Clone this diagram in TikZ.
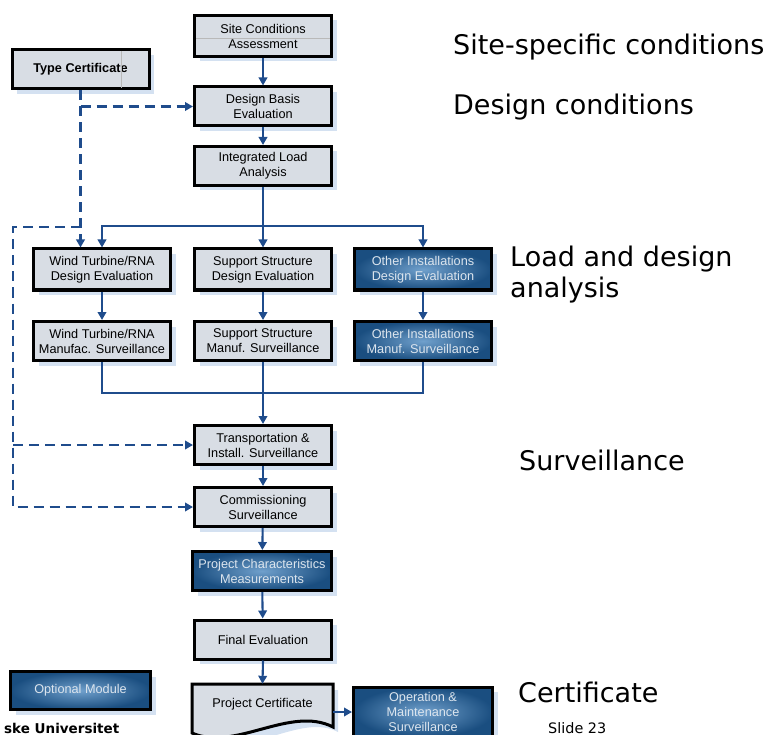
\documentclass[tikz,border=0pt]{standalone}
\usepackage{fontspec}
\setmainfont{Liberation Sans}
\newfontfamily\labelfont{DejaVu Sans}
\usetikzlibrary{arrows.meta,shadows}

\definecolor{boxfill}{RGB}{216,221,228}
\definecolor{shadowblue}{RGB}{212,225,241}
\definecolor{linkblue}{RGB}{31,76,140}
\definecolor{darkouter}{RGB}{26,78,128}
\definecolor{darkinner}{RGB}{112,160,204}
\definecolor{darktext}{RGB}{220,229,238}

\tikzset{
  module/.style={draw=black, line width=3pt, fill=boxfill,
    minimum width=137pt, minimum height=39pt, inner sep=0pt, align=center,
    font=\fontsize{12.7pt}{15pt}\selectfont,
    drop shadow={shadow xshift=5pt, shadow yshift=-5pt, fill=shadowblue, opacity=1}},
  optmodule/.style={module, fill=none, shade, inner color=darkinner, outer color=darkouter,
    text=darktext},
  link/.style={draw=linkblue, line width=2.1pt},
  linkarrow/.style={link, -{Triangle[length=8pt,width=8.5pt]}},
  dlink/.style={link, line width=2.3pt, dash pattern=on 10pt off 6pt},
  dlinkarrow/.style={dlink, -{Triangle[length=8pt,width=8.5pt]}},
  sidelabel/.style={anchor=base west, inner sep=0pt, font=\labelfont\fontsize{27pt}{31pt}\selectfont},
}

\begin{document}
\begin{tikzpicture}[x=1pt,y=-1pt]
\useasboundingbox (0,0) rectangle (768,735);

% main chain
\node[module, minimum height=41pt] (site)  at (263,36)    {Site Conditions\\Assessment};
\node[module, font=\bfseries\fontsize{12.7pt}{15pt}\selectfont] (type) at (80.5,69.5) {Type Certificate};
\node[module] (basis) at (263,106.5) {Design Basis\\Evaluation};
\node[module] (ila)   at (263,166)   {Integrated Load\\Analysis};

% faint ruling left inside two boxes
\draw[gray!55, line width=0.7pt] (196,38) -- (330,38);
\draw[gray!55, line width=0.7pt] (121,51) -- (121,88);

% design evaluation row
\node[module, minimum height=41pt] (wtd) at (102,269.5) {Wind Turbine/RNA\\Design Evaluation};
\node[module, minimum height=41pt] (ssd) at (263,269.5) {Support Structure\\Design Evaluation};
\node[optmodule, minimum height=41pt] (oid) at (423,269.5) {Other Installations\\Design Evaluation};

% manufacturing surveillance row
\node[module] (wtm) at (102,341) {Wind Turbine/RNA\\Manufac. Surveillance};
\node[module] (ssm) at (263,341) {Support Structure\\Manuf. Surveillance};
\node[optmodule] (oim) at (423,341) {Other Installations\\Manuf. Surveillance};

% site phases
\node[module] (trans) at (263,445)   {Transportation \&\\Install. Surveillance};
\node[module] (comm)  at (263,507)   {Commissioning\\Surveillance};
\node[optmodule, minimum width=139pt] (pcm) at (262,571) {Project Characteristics\\Measurements};
\node[module] (final) at (263,639.5) {Final Evaluation};

% project certificate (document shape)
\fill[shadowblue] (197,690) -- (338,690) -- (338,732) .. controls (300,712) and (250,760) .. (197,740) -- cycle;
\draw[black, line width=3pt, fill=boxfill, line join=miter]
  (192,684) -- (333,684) -- (333,727) .. controls (290,705) and (235,752) .. (192,733) -- cycle;
\node[inner sep=0pt, minimum width=141pt, minimum height=40pt,
  font=\fontsize{12.7pt}{15pt}\selectfont] (cert) at (262.5,704) {Project Certificate};

\node[optmodule, minimum width=139pt, minimum height=50pt] (om) at (423,712)
  {Operation \&\\Maintenance\\Surveillance};

% legend
\node[optmodule, minimum width=140pt, minimum height=38pt] (opt) at (80.5,690.5) {Optional Module};

% solid connectors
\draw[linkarrow] (site) -- (basis);
\draw[linkarrow] (basis) -- (ila);
\coordinate (split) at (263,226);
\draw[link] (ila.south) -- (split);
\draw[linkarrow] (split) -| (wtd.north);
\draw[linkarrow] (split) -| (oid.north);
\draw[linkarrow] (split) -- (ssd.north);
\draw[linkarrow] (wtd) -- (wtm);
\draw[linkarrow] (ssd) -- (ssm);
\draw[linkarrow] (oid) -- (oim);
\coordinate (merge) at (263,393);
\draw[link] (wtm.south) |- (merge) -| (oim.south);
\draw[linkarrow] (ssm.south) -- (trans.north);
\draw[linkarrow] (trans) -- (comm);
\draw[linkarrow] (comm) -- (pcm);
\draw[linkarrow] (pcm) -- (final);
\draw[linkarrow] (final.south) -- (cert.north);
\draw[linkarrow] (cert.east |- om.west) -- (om.west);

% dashed connectors from the type certificate
\coordinate (tdrop) at ([xshift=-21pt]wtd.north);
\coordinate (loop) at (13,227);
\draw[dlinkarrow] (type.south) -- (type.south |- tdrop);
\draw[dlinkarrow] (type.south |- basis.west) -- (basis.west);
\draw[dlinkarrow] (type.south |- loop) -- (loop) -- (loop |- comm.west) -- (comm.west);
\draw[dlinkarrow] (loop |- trans.west) -- (trans.west);

% phase labels
\node[sidelabel] (l1) at (453,55)  {Site-specific conditions};
\node[sidelabel] (l2) at (453,115) {Design conditions};
\node[sidelabel] (l3) at (510,267) {Load and design};
\node[sidelabel] (l4) at (510,298) {analysis};
\node[sidelabel] (l5) at (519,470) {Surveillance};
\node[sidelabel] (l6) at (518,702) {Certificate};

% footer
\node[anchor=base west, inner sep=0pt, font=\labelfont\fontsize{14.4pt}{16pt}\selectfont] (slide) at (548,733) {Slide 23};
\node[anchor=base west, inner sep=0pt, font=\labelfont\bfseries\fontsize{13.5pt}{16pt}\selectfont] (uni) at (4,733) {ske Universitet};
\end{tikzpicture}
\end{document}
